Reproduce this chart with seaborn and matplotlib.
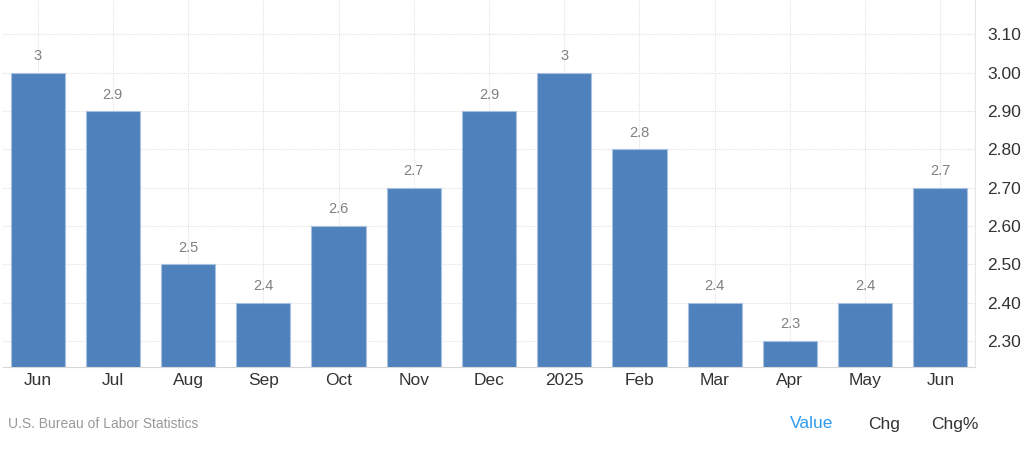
import numpy as np
import pandas as pd
import matplotlib
matplotlib.use("Agg")
import matplotlib.pyplot as plt
import seaborn as sns

# Data
months = ["Jun", "Jul", "Aug", "Sep", "Oct", "Nov", "Dec", "2025",
          "Feb", "Mar", "Apr", "May", "Jun"]
values = [3.0, 2.9, 2.5, 2.4, 2.6, 2.7, 2.9, 3.0, 2.8, 2.4, 2.3, 2.4, 2.7]
value_labels = ["3", "2.9", "2.5", "2.4", "2.6", "2.7", "2.9", "3",
                "2.8", "2.4", "2.3", "2.4", "2.7"]
y_ticks = [2.30, 2.40, 2.50, 2.60, 2.70, 2.80, 2.90, 3.00, 3.10]

df = pd.DataFrame({"pos": range(len(months)), "value": values})

sns.set_style("white")
plt.rcParams['font.family'] = ['Liberation Sans', 'DejaVu Sans']

fig = plt.figure(figsize=(10.24, 4.55), dpi=100)
ax = fig.add_axes([3 / 1024, 88 / 455, 972 / 1024, 367 / 455])

sns.barplot(data=df, x="pos", y="value", color="#4f81bd", saturation=1,
            width=0.72, edgecolor="#a9c1e0", linewidth=0.8, ax=ax, zorder=3)

ax.set_ylim(2.232, 3.19)
ax.set_xlim(-0.46, len(months) - 0.54)

# dotted grid
ax.set_yticks(y_ticks)
ax.grid(True, axis="both", color="#e2e2e2", linestyle=(0, (1, 1)), linewidth=0.8, zorder=0)

ax.set_xticks(range(len(months)))
ax.set_xticklabels(months, fontsize=12.5, color="#333333")
ax.yaxis.tick_right()
ax.set_yticklabels([f"{t:.2f}" for t in y_ticks], fontsize=12.5, color="#333333")
ax.tick_params(axis="x", length=0, pad=4)
ax.tick_params(axis="y", length=0, pad=9)
ax.set_xlabel("")
ax.set_ylabel("")

for s in ["top", "left"]:
    ax.spines[s].set_visible(False)
ax.spines["bottom"].set_color("#d8d8d8")
ax.spines["right"].set_color("#e6e6e6")
ax.spines["bottom"].set_zorder(4)

for i, (v, lab) in enumerate(zip(values, value_labels)):
    ax.text(i, v + 0.025, lab, ha="center", va="bottom", fontsize=10.5,
            color="#808080", zorder=5)

fig.text(8 / 1024, 1 - 424 / 455, "U.S. Bureau of Labor Statistics",
         fontsize=10, color="#999999", va="center", ha="left")
fig.text(812 / 1024, 1 - 424 / 455, "Value", fontsize=12.5, color="#2f9bf0",
         va="center", ha="center")
fig.text(884 / 1024, 1 - 424 / 455, "Chg", fontsize=12.5, color="#333333",
         va="center", ha="center")
fig.text(955 / 1024, 1 - 424 / 455, "Chg%", fontsize=12.5, color="#333333",
         va="center", ha="center")

fig.savefig("out.png", dpi=100)
